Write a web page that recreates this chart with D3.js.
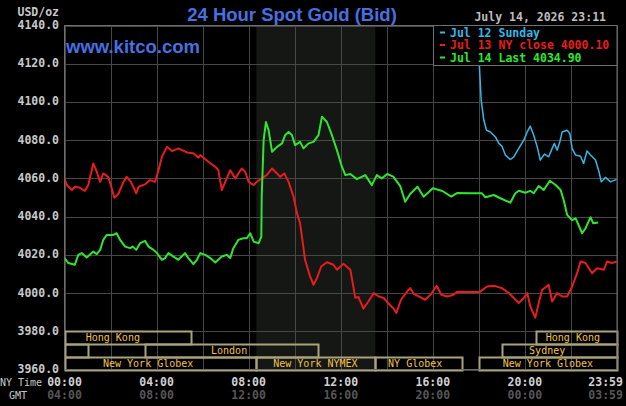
<!DOCTYPE html>
<html>
<head>
<meta charset="utf-8">
<script src="https://cdn.jsdelivr.net/npm/d3@7"></script>
<style>
  body { margin: 0; background: #000; }
  svg { display: block; }
</style>
</head>
<body>
<div id="chart"></div>
<script>
// price levels on the left axis
var yTicks = [3960, 3980, 4000, 4020, 4040, 4060, 4080, 4100, 4120, 4140];
// bottom axis: NY time ticks and their GMT twins
var nyTicks = ["00:00", "04:00", "08:00", "12:00", "16:00", "20:00", "23:59"];
var gmtTicks = ["04:00", "08:00", "12:00", "16:00", "20:00", "00:00", "03:59"];

// [minute of NY day, price]
var jul12 = [[1080,4124.0],[1086,4100.9],[1093,4090.4],[1100,4085.2],[1110,4084.3],[1123,4081.7],
  [1132,4078.3],[1140,4076.9],[1149,4072.2],[1162,4069.9],[1171,4071.3],[1184,4075.7],[1197,4080.0],
  [1206,4084.3],[1214,4087.3],[1223,4082.6],[1232,4076.5],[1240,4069.6],[1251,4072.7],[1262,4071.3],
  [1271,4075.7],[1277,4078.3],[1284,4074.8],[1291,4079.1],[1297,4084.3],[1310,4085.2],[1317,4083.5],
  [1323,4075.7],[1332,4072.2],[1345,4071.6],[1353,4067.8],[1362,4074.4],[1371,4072.2],[1384,4069.6],
  [1393,4063.5],[1399,4058.2],[1410,4060.5],[1423,4058.2],[1439,4059.5]];

var jul13 = [[0,4060.0],[6,4056.5],[19,4053.9],[27,4055.6],[40,4055.1],[53,4053.4],[62,4056.5],
  [75,4067.8],[84,4063.5],[93,4058.2],[101,4062.6],[114,4060.8],[123,4054.8],[130,4049.9],[140,4051.7],
  [152,4057.4],[162,4060.8],[173,4058.2],[187,4052.2],[193,4055.6],[210,4056.9],[223,4059.1],[236,4058.2],
  [245,4064.3],[254,4071.3],[267,4076.5],[280,4074.3],[297,4075.7],[319,4073.6],[336,4073.1],[349,4070.8],
  [354,4072.2],[375,4068.7],[393,4066.1],[401,4064.3],[410,4053.9],[419,4058.2],[432,4064.3],[445,4060.0],
  [462,4065.2],[471,4063.5],[480,4058.2],[493,4056.5],[501,4058.2],[514,4060.0],[527,4061.7],[541,4065.2],
  [554,4062.6],[562,4060.8],[573,4062.6],[584,4058.2],[597,4050.4],[606,4041.7],[614,4036.5],[620,4027.8],
  [627,4017.4],[640,4008.7],[649,4004.3],[658,4007.8],[669,4013.9],[684,4016.1],[701,4014.8],[710,4012.2],
  [727,4015.3],[745,4012.2],[758,3997.5],[766,3998.0],[779,3991.8],[792,3995.6],[806,4000.0],[819,3998.2],
  [832,3997.4],[845,3994.4],[858,3991.8],[865,3989.6],[877,3996.5],[893,4000.8],[901,4002.6],[910,3999.6],
  [922,3998.4],[940,3996.5],[955,3999.4],[970,4003.8],[982,3999.1],[998,3998.2],[1014,3999.1],[1023,4000.7],
  [1058,4000.5],[1082,4000.5],[1101,4003.4],[1119,4003.8],[1140,4002.6],[1158,4000.0],[1171,3997.4],
  [1184,3994.8],[1197,3997.4],[1206,4000.0],[1214,3993.0],[1227,3987.1],[1236,3994.8],[1245,4001.7],
  [1262,4004.3],[1271,3995.6],[1284,4000.0],[1297,3998.2],[1310,3998.2],[1323,4003.4],[1336,4010.4],
  [1345,4016.5],[1358,4015.7],[1375,4010.4],[1388,4013.0],[1406,4012.2],[1414,4016.5],[1427,4015.7],
  [1439,4016.5]];

var jul14 = [[0,4018.3],[10,4015.7],[27,4014.8],[36,4020.0],[45,4020.9],[58,4018.6],[75,4021.7],
  [84,4020.4],[93,4022.6],[101,4027.8],[110,4030.4],[127,4030.4],[136,4031.3],[145,4027.8],[158,4024.3],
  [171,4023.5],[178,4024.3],[187,4022.6],[197,4026.1],[210,4027.3],[219,4024.3],[232,4022.6],[241,4020.9],
  [254,4017.4],[262,4018.3],[271,4020.9],[284,4019.1],[297,4017.4],[314,4020.9],[323,4018.3],[336,4015.1],
  [345,4017.4],[354,4020.9],[367,4020.0],[380,4018.3],[393,4016.0],[410,4019.1],[423,4020.0],[432,4018.3],
  [440,4023.5],[453,4027.8],[466,4028.7],[475,4028.7],[484,4031.3],[493,4026.9],[506,4026.1],[513,4029.5],
  [514,4050.4],[519,4080.0],[525,4089.5],[532,4085.2],[541,4073.9],[554,4076.5],[567,4078.3],[575,4082.6],
  [584,4084.3],[593,4082.6],[601,4077.4],[614,4079.1],[623,4075.7],[636,4078.3],[649,4079.1],[662,4082.6],
  [671,4092.3],[684,4089.5],[697,4082.6],[710,4074.8],[723,4066.1],[732,4061.7],[745,4062.3],[762,4059.6],
  [784,4061.7],[801,4056.5],[814,4061.7],[827,4060.0],[841,4062.3],[857,4060.9],[875,4056.0],[888,4047.8],
  [901,4051.8],[920,4055.6],[936,4050.4],[960,4054.8],[985,4053.4],[1008,4050.5],[1023,4052.3],
  [1058,4052.2],[1088,4052.2],[1097,4050.1],[1119,4051.3],[1136,4049.6],[1162,4047.3],[1175,4052.2],
  [1184,4053.5],[1201,4052.5],[1214,4053.5],[1223,4052.2],[1236,4056.0],[1249,4053.9],[1265,4058.8],
  [1280,4056.5],[1293,4053.9],[1301,4048.7],[1310,4040.9],[1323,4038.2],[1332,4039.1],[1340,4035.6],
  [1349,4031.3],[1358,4033.9],[1371,4039.7],[1378,4036.5],[1391,4036.9]];

var legendLabels = ["Jul 12 Sunday", "Jul 13 NY close 4000.10", "Jul 14 Last 4034.90"];

// trading sessions drawn as boxes under the price lines
var sessionNames  = ["Hong Kong", "", "London", "New York Globex", "New York NYMEX", "NY Globex", "New York Globex", "Sydney", "Hong Kong"];
var sessionRows   = [0, 1, 1, 2, 2, 2, 2, 1, 0];
var sessionStarts = ["00:00", "00:00", "03:30", "00:00", "08:20", "13:30", "18:00", "19:00", "20:30"];
var sessionEnds   = ["05:30", "01:00", "11:00", "08:20", "13:30", "17:15", "24:00", "24:00", "24:00"];
var sessionLabelAt = ["02:06", "", "07:09", "03:38", "10:54", "15:14", "21:00", "20:58", "22:05"];

function minutes(s) {
  var p = s.split(":");
  return +p[0] * 60 + +p[1];
}

var W = 626, H = 406;
var plotL = 64.5, plotR = 617, plotT = 25.5, plotB = 369.5;
var mono = "'DejaVu Sans Mono', monospace";

var svg = d3.select("#chart").append("svg")
  .attr("width", W)
  .attr("height", H)
  .style("background", "#000");

var x = d3.scaleLinear().domain([0, 1440]).range([plotL, plotR]);
var y = d3.scaleLinear().domain([3960, 4140]).range([plotB, plotT]);

// NYMEX pit hours shading
var nymex = sessionNames.indexOf("New York NYMEX");
svg.append("rect")
  .attr("x", x(minutes(sessionStarts[nymex])))
  .attr("y", plotT)
  .attr("width", x(minutes(sessionEnds[nymex])) - x(minutes(sessionStarts[nymex])))
  .attr("height", plotB - plotT)
  .attr("fill", "#141714");

// grid
var grid = svg.append("g").attr("stroke", "#474747").attr("stroke-width", 1);
grid.selectAll(".hg").data(yTicks).enter().append("line")
  .attr("x1", plotL).attr("x2", plotR)
  .attr("y1", function(d){ return Math.round(y(d)) + 0.5; })
  .attr("y2", function(d){ return Math.round(y(d)) + 0.5; });
grid.selectAll(".vg").data(d3.range(0, 1441, 120)).enter().append("line")
  .attr("x1", function(d){ return Math.round(x(d)) + 0.5; })
  .attr("x2", function(d){ return Math.round(x(d)) + 0.5; })
  .attr("y1", plotT).attr("y2", plotB);

// session boxes, three rows in the 3960-3980 band
var rowEdge = function(r){ return y(3980 - r * 20 / 3); };
var sess = svg.append("g");
sessionNames.forEach(function(name, i){
  var x0 = x(minutes(sessionStarts[i])), x1 = x(minutes(sessionEnds[i]));
  var y0 = rowEdge(sessionRows[i]), y1 = rowEdge(sessionRows[i] + 1);
  sess.append("rect")
    .attr("x", Math.round(x0) + 0.5).attr("y", Math.round(y0) + 0.5)
    .attr("width", Math.round(x1) - Math.round(x0))
    .attr("height", Math.round(y1) - Math.round(y0))
    .attr("fill", "none")
    .attr("stroke", "#a9a37b")
    .attr("stroke-width", 2);
  if (name) {
    sess.append("text")
      .attr("x", x(minutes(sessionLabelAt[i])))
      .attr("y", (y0 + y1) / 2 + 3.5)
      .attr("text-anchor", "middle")
      .attr("fill", "#f2c04c")
      .style("font", "10px " + mono)
      .text(name);
  }
});

// price lines
var line = d3.line()
  .x(function(d){ return x(d[0]); })
  .y(function(d){ return y(d[1]); });
var series = [
  {data: jul12, color: "#35b8e6", w: 1.5},
  {data: jul13, color: "#e81c1c", w: 2},
  {data: jul14, color: "#2fe62f", w: 2}
];
svg.append("defs").append("clipPath").attr("id", "plotclip")
  .append("rect").attr("x", plotL).attr("y", plotT).attr("width", plotR - plotL).attr("height", plotB - plotT);
series.forEach(function(s){
  svg.append("path")
    .datum(s.data)
    .attr("clip-path", "url(#plotclip)")
    .attr("fill", "none")
    .attr("stroke", s.color)
    .attr("stroke-width", s.w)
    .attr("stroke-linejoin", "round")
    .attr("d", line);
});

// frame
svg.append("rect")
  .attr("x", plotL).attr("y", plotT)
  .attr("width", plotR - plotL).attr("height", plotB - plotT)
  .attr("fill", "none").attr("stroke", "#6e6e6e");

// y labels
svg.selectAll(".yl").data(yTicks).enter().append("text")
  .attr("x", 59)
  .attr("y", function(d){ return y(d) + 3.5; })
  .attr("text-anchor", "end")
  .attr("fill", "#c8c8c8")
  .style("font", "bold 11.5px " + mono)
  .text(function(d){ return d3.format(".1f")(d); });
svg.append("text").attr("x", 59).attr("y", 15.5).attr("text-anchor", "end")
  .attr("fill", "#c8c8c8").style("font", "bold 11.5px " + mono).text("USD/oz");

// x labels
nyTicks.forEach(function(t, i){
  var last = i === nyTicks.length - 1;
  var px = x(minutes(t)) + (last ? -11 : 0);
  svg.append("text").attr("x", px).attr("y", 385.5).attr("text-anchor", "middle")
    .attr("fill", "#d0d0d0").style("font", "bold 11.5px " + mono).text(t);
  svg.append("text").attr("x", px).attr("y", 399).attr("text-anchor", "middle")
    .attr("fill", "#565656").style("font", "bold 11.5px " + mono).text(gmtTicks[i]);
});
svg.append("text").attr("x", 0).attr("y", 386).attr("fill", "#c8c8c8")
  .style("font", "10px " + mono).text("NY Time");
svg.append("text").attr("x", 9).attr("y", 398.5).attr("fill", "#c8c8c8")
  .style("font", "10px " + mono).text("GMT");

// titles
svg.append("text").attr("x", 292).attr("y", 21).attr("text-anchor", "middle")
  .attr("fill", "#4870e0").style("font", "bold 18.5px 'Liberation Sans', Arial, sans-serif")
  .text("24 Hour Spot Gold (Bid)");
svg.append("text").attr("x", 66).attr("y", 53).attr("fill", "#4870e0")
  .style("font", "bold 18.5px 'Liberation Sans', Arial, sans-serif").text("www.kitco.com");
svg.append("text").attr("x", 606).attr("y", 20.5).attr("text-anchor", "end")
  .attr("fill", "#bdbdbd").style("font", "bold 11.5px " + mono).text("July 14, 2026 23:11");

// legend
var lg = svg.append("g");
lg.append("rect").attr("x", 433.5).attr("y", plotT).attr("width", plotR - 433.5).attr("height", 40)
  .attr("fill", "#000").attr("stroke", "#6e6e6e");
legendLabels.forEach(function(t, i){
  var ly = 32.5 + i * 12.5;
  lg.append("line").attr("x1", 440).attr("x2", 445).attr("y1", ly).attr("y2", ly)
    .attr("stroke", series[i].color).attr("stroke-width", 2);
  lg.append("text").attr("x", 450).attr("y", ly + 4).attr("fill", series[i].color)
    .style("font", "bold 11.5px " + mono).text(t);
});
</script>
</body>
</html>
